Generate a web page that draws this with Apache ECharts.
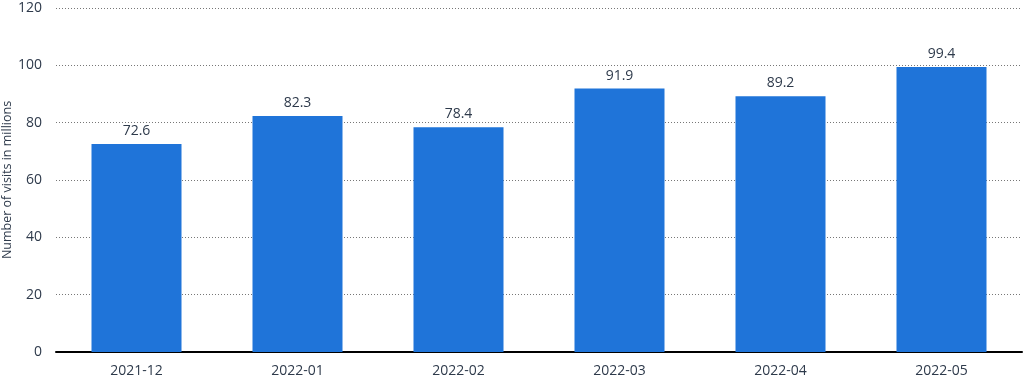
<!DOCTYPE html>
<html><head><meta charset="utf-8">
<script src="https://cdn.jsdelivr.net/npm/echarts@6/dist/echarts.min.js"></script>
<style>html,body{margin:0;padding:0;background:#fff}#c{width:1024px;height:380px}</style>
</head><body><div id="c"></div>
<script>
const categories = ['2021-12','2022-01','2022-02','2022-03','2022-04','2022-05'];
const visits = [72.6, 82.3, 78.4, 91.9, 89.2, 99.4];
const yTicks = [0, 20, 40, 60, 80, 100, 120];
const axisTitle = 'Number of visits in millions';

const chart = echarts.init(document.getElementById('c'));
const font = '"Open Sans", sans-serif';
const txt = '#2e3a4b';
chart.setOption({
  animation: false,
  grid: {left: 56, right: 2, top: 8, bottom: 28, containLabel: false, outerBoundsMode: 'none'},
  xAxis: {
    type: 'category', data: categories,
    axisLine: {lineStyle: {color: '#000', width: 2}},
    axisTick: {show: false},
    axisLabel: {color: txt, fontSize: 14, fontFamily: font, margin: 12}
  },
  yAxis: {
    type: 'value', min: yTicks[0], max: yTicks[yTicks.length-1], interval: 20,
    name: axisTitle, nameLocation: 'middle', nameGap: 42, nameMoveOverlap: false,
    nameTextStyle: {color: txt, fontSize: 12.5, fontFamily: font},
    axisLine: {show: false}, axisTick: {show: false},
    axisLabel: {color: txt, fontSize: 14, fontFamily: font, margin: 14},
    splitLine: {lineStyle: {color: '#777', type: [1, 2], width: 1}}
  },
  series: [{
    type: 'bar', data: visits, barWidth: 90,
    itemStyle: {color: '#1f74d9'},
    label: {show: true, position: 'top', color: txt, fontSize: 14, fontFamily: font, distance: 6}
  }]
});
</script></body></html>
